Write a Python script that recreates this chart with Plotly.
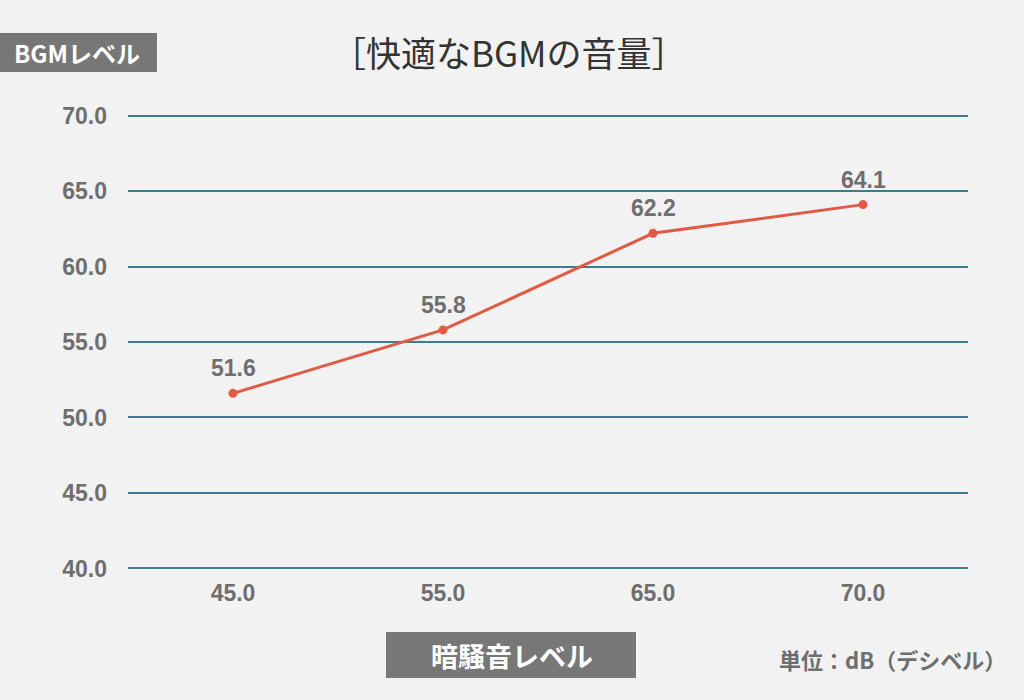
import plotly.graph_objects as go

categories = ["45.0", "55.0", "65.0", "70.0"]
bgm_level = [51.6, 55.8, 62.2, 64.1]
y_ticks = [40, 45, 50, 55, 60, 65, 70]

bg = "#f2f2f2"
W, H = 1024, 700
L, R, T, B = 128, 56, 108, 124
PW, PH = W - L - R, H - T - B


def px(x):
    return (x - L) / PW


def py(y):
    return (H - B - y) / PH


gray = "#6e6e6e"
fig = go.Figure()
fig.add_trace(go.Scatter(
    x=categories, y=bgm_level, mode="lines+markers",
    line=dict(color="#e05a44", width=3),
    marker=dict(color="#e05a44", size=9),
    cliponaxis=False, showlegend=False, hoverinfo="skip",
))

for i, v in enumerate(bgm_level):
    fig.add_annotation(x=i, y=v, text=f"{v:.1f}", showarrow=False, yshift=25,
                       xanchor="center", yanchor="middle",
                       font=dict(family="Liberation Sans, Arial", size=23, color=gray, weight="bold"))

tickfont = dict(family="Liberation Sans, Arial", size=23, color=gray, weight="bold")
fig.update_layout(
    width=W, height=H,
    paper_bgcolor=bg, plot_bgcolor=bg,
    margin=dict(l=L, r=R, t=T, b=B),
    xaxis=dict(type="category", range=[-0.5, 3.5], showgrid=False, zeroline=False, showline=False,
               ticks="", tickfont=tickfont, ticklabelstandoff=1),
    yaxis=dict(range=[39.5, 70.5], tickvals=y_ticks, ticktext=[f"{v:.1f}" for v in y_ticks],
               showgrid=True, gridcolor="#3f7b90", gridwidth=1.5, zeroline=False, showline=False,
               ticks="", tickfont=tickfont, ticklabelstandoff=20),
    font=dict(family="Liberation Sans, Arial"),
)

# Title
fig.add_annotation(text="［快適なBGMの音量］", xref="paper", yref="paper", x=px(509), y=py(52),
                   xanchor="center", yanchor="middle", showarrow=False,
                   font=dict(family="Noto Sans CJK JP", size=35, color="#333333"))
# Y label box
fig.add_shape(type="rect", xref="paper", yref="paper", x0=px(0), x1=px(157),
              y0=py(72), y1=py(33), fillcolor="#777777", line_width=0, layer="below")
fig.add_annotation(text="BGMレベル", xref="paper", yref="paper", x=px(77), y=py(52.5),
                   xanchor="center", yanchor="middle", showarrow=False,
                   font=dict(family="Noto Sans CJK JP", size=24, color="#ffffff", weight="bold"))
# X label box
fig.add_shape(type="rect", xref="paper", yref="paper", x0=px(386), x1=px(636),
              y0=py(678), y1=py(632), fillcolor="#777777", line_width=0, layer="below")
fig.add_annotation(text="暗騒音レベル", xref="paper", yref="paper", x=px(512), y=py(655),
                   xanchor="center", yanchor="middle", showarrow=False,
                   font=dict(family="Noto Sans CJK JP", size=27, color="#ffffff", weight="bold"))
# Unit
fig.add_annotation(text="単位：dB（デシベル）", xref="paper", yref="paper", x=px(1008), y=py(659),
                   xanchor="right", yanchor="middle", showarrow=False,
                   font=dict(family="Noto Sans CJK JP", size=22, color=gray, weight="bold"))

fig.write_html("out.html", config={"displayModeBar": False},
               post_script="document.body.style.margin='0';document.body.style.background='#f2f2f2';")
